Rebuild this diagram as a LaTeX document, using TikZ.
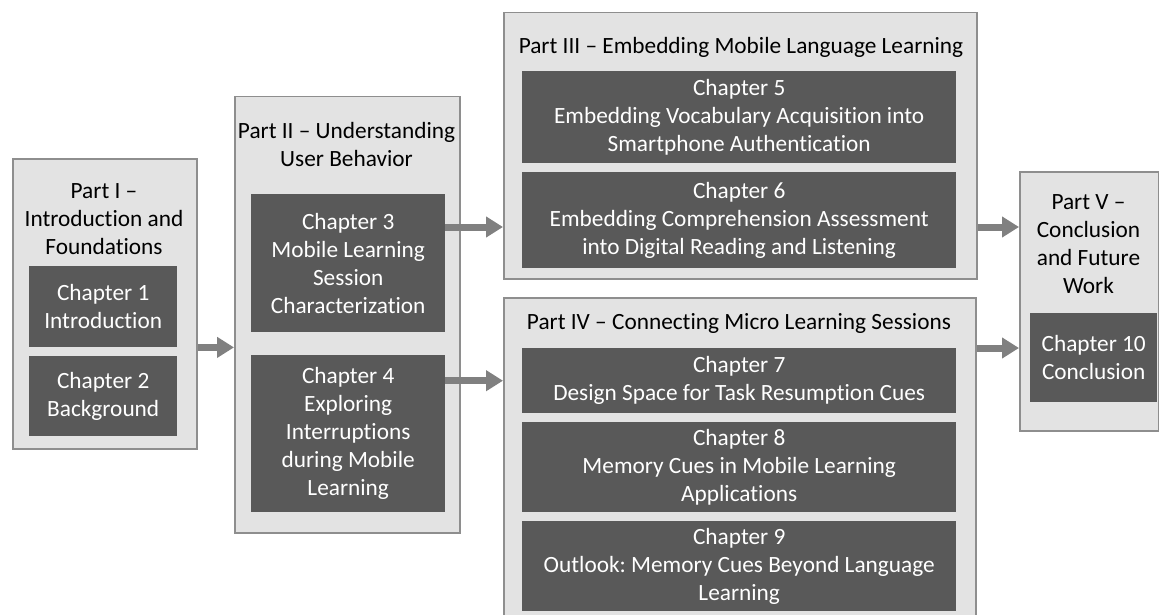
\documentclass[tikz,border=0pt]{standalone}
\usepackage{fontspec}
\setmainfont{Carlito}[Ligatures=NoCommon]
\frenchspacing
\usetikzlibrary{arrows.meta}
\definecolor{partfill}{HTML}{E3E3E3}
\definecolor{partline}{HTML}{8E8E8E}
\definecolor{chapfill}{HTML}{595959}
\definecolor{arrowgray}{HTML}{808080}
\begin{document}
\begin{tikzpicture}[x=1pt,y=-1pt,
  partbox/.style={draw=partline,fill=partfill,line width=1.5pt,anchor=north west,inner sep=0pt},
  chapbox/.style={fill=chapfill,text=white,anchor=north west,inner sep=0pt,align=center,
    font=\fontsize{23.3}{28}\selectfont},
  parttitle/.style={inner sep=0pt,align=center,text=black,font=\fontsize{23.3}{28}\selectfont},
  flow/.style={draw=arrowgray,line width=7pt,-{Triangle[width=20pt,length=17pt]},arrowgray}
]
\useasboundingbox (0,0) rectangle (1159,615);
\fill[white] (0,0) rectangle (1159,615);

% Part I
\node[partbox,minimum width=184pt,minimum height=290pt] (p1) at (12,158) {};
\node[parttitle] (t1) at (104,219) {Part I --\\Introduction and\\Foundations};
\node[chapbox,minimum width=148pt,minimum height=81pt] (c1) at (29,266) {Chapter 1\\Introduction};
\node[chapbox,minimum width=148pt,minimum height=80pt] (c2) at (29,356) {Chapter 2\\Background};

% Part II
\node[partbox,minimum width=225pt,minimum height=436pt] (p2) at (234,96) {};
\node[parttitle] (t2) at (346.5,144) {Part II -- Understanding\\User Behavior};
\node[chapbox,minimum width=194pt,minimum height=138pt] (c3) at (251,194)
  {Chapter 3\\Mobile Learning\\Session\\Characterization};
\node[chapbox,minimum width=194pt,minimum height=157pt] (c4) at (251,355)
  {Chapter 4\\Exploring\\Interruptions\\during Mobile\\Learning};

% Part III
\node[partbox,minimum width=473pt,minimum height=266pt] (p3) at (503,12) {};
\node[parttitle] (t3) at (741,47) {Part III -- Embedding Mobile Language Learning};
\node[chapbox,minimum width=434pt,minimum height=92pt] (c5) at (522,71)
  {Chapter 5\\Embedding Vocabulary Acquisition into\\Smartphone Authentication};
\node[chapbox,minimum width=434pt,minimum height=96pt] (c6) at (522,172)
  {Chapter 6\\Embedding Comprehension Assessment\\into Digital Reading and Listening};

% Part IV
\node[partbox,minimum width=472pt,minimum height=330pt] (p4) at (503,297) {};
\node[parttitle] (t4) at (739,323) {Part IV -- Connecting Micro Learning Sessions};
\node[chapbox,minimum width=434pt,minimum height=65pt] (c7) at (522,348)
  {Chapter 7\\Design Space for Task Resumption Cues};
\node[chapbox,minimum width=434pt,minimum height=90pt] (c8) at (522,422)
  {Chapter 8\\Memory Cues in Mobile Learning\\Applications};
\node[chapbox,minimum width=434pt,minimum height=90pt] (c9) at (522,521)
  {Chapter 9\\Outlook: Memory Cues Beyond Language\\Learning};

% Part V
\node[partbox,minimum width=139pt,minimum height=259pt] (p5) at (1019,171) {};
\node[parttitle] (t5) at (1088.5,244.5) {Part V --\\Conclusion\\and Future\\Work};
\node[chapbox,minimum width=127pt,minimum height=89pt] (c10) at (1030,313)
  {Chapter 10\\Conclusion};

% Reading flow between the parts
\coordinate (r1) at (0,227);
\draw[flow] (p1.east |- c1.south) -- (p2.west |- c1.south);
\draw[flow] (c3.east |- r1) -- (p3.west |- r1);
\draw[flow] (c4.east |- c7.center) -- (p4.west |- c7.center);
\draw[flow] (p3.east |- r1) -- (p5.west |- r1);
\draw[flow] (p4.east |- c7.north) -- (p5.west |- c7.north);
\end{tikzpicture}
\end{document}
